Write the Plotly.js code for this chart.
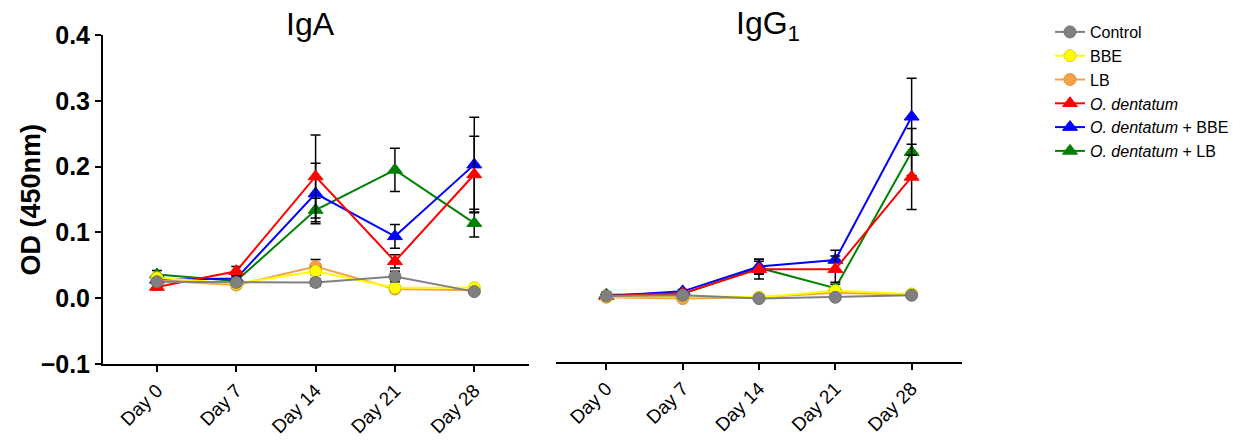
<!DOCTYPE html>
<html>
<head>
<meta charset="utf-8">
<script src="https://cdn.plot.ly/plotly-3.0.1.min.js"></script>
<style>html,body{margin:0;padding:0;background:#fff;}#chart{width:1256px;height:445px;}</style>
</head>
<body>
<div id="chart"></div>
<script>
// ---- data ----
const days = ['Day 0', 'Day 7', 'Day 14', 'Day 21', 'Day 28'];
const seriesNames = ['Control', 'BBE', 'LB', '<i>O. dentatum</i>', '<i>O. dentatum</i> + BBE', '<i>O. dentatum</i> + LB'];

const controlIgA = [0.025, 0.024, 0.024, 0.033, 0.010];
const controlIgAErr = [0.004, 0.003, 0.006, 0.008, 0.002];
const bbeIgA = [0.031, 0.022, 0.041, 0.016, 0.016];
const bbeIgAErr = [0.005, 0.003, 0.006, 0.004, 0.003];
const lbIgA = [0.027, 0.020, 0.048, 0.014, 0.012];
const lbIgAErr = [0.004, 0.003, 0.011, 0.004, 0.002];
const odIgA = [0.017, 0.041, 0.185, 0.056, 0.188];
const odIgAErr = [0.004, 0.007, 0.063, 0.010, 0.058];
const odBbeIgA = [0.028, 0.030, 0.159, 0.094, 0.203];
const odBbeIgAErr = [0.005, 0.004, 0.046, 0.018, 0.072];
const odLbIgA = [0.036, 0.026, 0.134, 0.195, 0.114];
const odLbIgAErr = [0.006, 0.004, 0.018, 0.033, 0.021];

const controlIgG1 = [0.001, 0.002, -0.003, -0.001, 0.002];
const controlIgG1Err = [0.002, 0.002, 0.002, 0.002, 0.002];
const bbeIgG1 = [0.000, 0.001, -0.001, 0.009, 0.004];
const bbeIgG1Err = [0.002, 0.002, 0.002, 0.003, 0.002];
const lbIgG1 = [-0.001, -0.003, -0.001, 0.006, 0.003];
const lbIgG1Err = [0.002, 0.002, 0.002, 0.002, 0.002];
const odIgG1 = [0.001, 0.005, 0.042, 0.042, 0.183];
const odIgG1Err = [0.002, 0.003, 0.015, 0.020, 0.050];
const odBbeIgG1 = [0.001, 0.008, 0.046, 0.056, 0.275];
const odBbeIgG1Err = [0.006, 0.003, 0.011, 0.015, 0.059];
const odLbIgG1 = [0.003, 0.004, 0.044, 0.013, 0.221];
const odLbIgG1Err = [0.002, 0.002, 0.010, 0.006, 0.036];

// ---- styles ----
const styles = [
  {color: '#808080', line: '#707070', symbol: 'circle', size: 12},
  {color: '#FFFF00', line: '#D8D800', symbol: 'circle', size: 12},
  {color: '#F8A048', line: '#E89038', symbol: 'circle', size: 12},
  {color: '#FF0000', line: '#FF0000', symbol: 'triangle-up', size: 13},
  {color: '#0000FF', line: '#0000FF', symbol: 'triangle-up', size: 13},
  {color: '#008000', line: '#008000', symbol: 'triangle-up', size: 13}
];
const igaVals = [controlIgA, bbeIgA, lbIgA, odIgA, odBbeIgA, odLbIgA];
const igaErrs = [controlIgAErr, bbeIgAErr, lbIgAErr, odIgAErr, odBbeIgAErr, odLbIgAErr];
const iggVals = [controlIgG1, bbeIgG1, lbIgG1, odIgG1, odBbeIgG1, odLbIgG1];
const iggErrs = [controlIgG1Err, bbeIgG1Err, lbIgG1Err, odIgG1Err, odBbeIgG1Err, odLbIgG1Err];

function mk(i, vals, errs, xa, ya, show) {
  const s = styles[i];
  return {
    x: days, y: vals, type: 'scatter', mode: 'lines+markers',
    name: seriesNames[i], showlegend: show, xaxis: xa, yaxis: ya,
    line: {color: s.color, width: 2},
    marker: {color: s.color, symbol: s.symbol, size: s.size, line: {color: s.line, width: 1}},
    error_y: {type: 'data', array: errs, visible: true, color: '#000', thickness: 1.5, width: 5}
  };
}
const order = [5, 4, 3, 2, 1, 0];
const traces = [];
order.forEach(i => {
  traces.push(mk(i, igaVals[i], igaErrs[i], 'x', 'y', true));
  traces.push(mk(i, iggVals[i], iggErrs[i], 'x2', 'y2', false));
});

const W = 1256, H = 445;
const FF = 'Arial, Liberation Sans, sans-serif';
const axFont = {family: FF, size: 19, color: '#000'};
const layout = {
  width: W, height: H,
  margin: {l: 0, r: 0, t: 35, b: 81},
  paper_bgcolor: '#fff', plot_bgcolor: '#fff',
  font: {family: FF, color: '#000'},
  xaxis: {
    domain: [103 / W, 529 / W], range: [-0.68, 4.69], type: 'category',
    showline: true, linecolor: '#000', linewidth: 2, ticks: 'outside', ticklen: 6, tickwidth: 2, tickcolor: '#000',
    tickangle: -45, tickfont: axFont, showgrid: false, zeroline: false, anchor: 'y'
  },
  yaxis: {
    domain: [0, 1], range: [-0.1, 0.4], dtick: 0.1, tick0: 0, tickformat: '.1f',
    showline: true, linecolor: '#000', linewidth: 2, ticks: 'outside', ticklen: 6, tickwidth: 2, tickcolor: '#000',
    tickfont: {family: FF, size: 25, color: '#000', weight: 'bold'},
    showgrid: false, zeroline: false, anchor: 'x'
  },
  xaxis2: {
    domain: [556 / W, 962 / W], range: [-0.66, 4.66], type: 'category',
    showline: true, linecolor: '#000', linewidth: 2, ticks: 'outside', ticklen: 6, tickwidth: 2, tickcolor: '#000',
    tickangle: -45, tickfont: axFont, showgrid: false, zeroline: false, anchor: 'y2'
  },
  yaxis2: {
    domain: [2 / (H - 116), 1], range: [-0.1, 0.4],
    visible: false, showgrid: false, zeroline: false, anchor: 'x2'
  },
  legend: {
    x: 1050 / W, y: 1 + 20 / (H - 116), xanchor: 'left', yanchor: 'top',
    traceorder: 'reversed', font: {family: FF, size: 16, color: '#000'},
    bgcolor: 'rgba(0,0,0,0)', itemwidth: 30
  },
  annotations: [
    {text: 'IgA', xref: 'paper', yref: 'paper', x: 310 / W, y: 1 + 11 / (H - 116), xanchor: 'center', yanchor: 'middle',
     showarrow: false, font: {family: FF, size: 32, color: '#000'}},
    {text: 'IgG<sub>1</sub>', xref: 'paper', yref: 'paper', x: 768 / W, y: 1 + 9 / (H - 116), xanchor: 'center', yanchor: 'middle',
     showarrow: false, font: {family: FF, size: 32, color: '#000'}},
    {text: '<b>OD (450nm)</b>', xref: 'paper', yref: 'paper', x: 30 / W, y: 0.5, xanchor: 'center', yanchor: 'middle',
     textangle: -90, showarrow: false, font: {family: FF, size: 27, color: '#000'}}
  ]
};
Plotly.newPlot('chart', traces, layout, {displayModeBar: false, staticPlot: true});
</script>
</body>
</html>
